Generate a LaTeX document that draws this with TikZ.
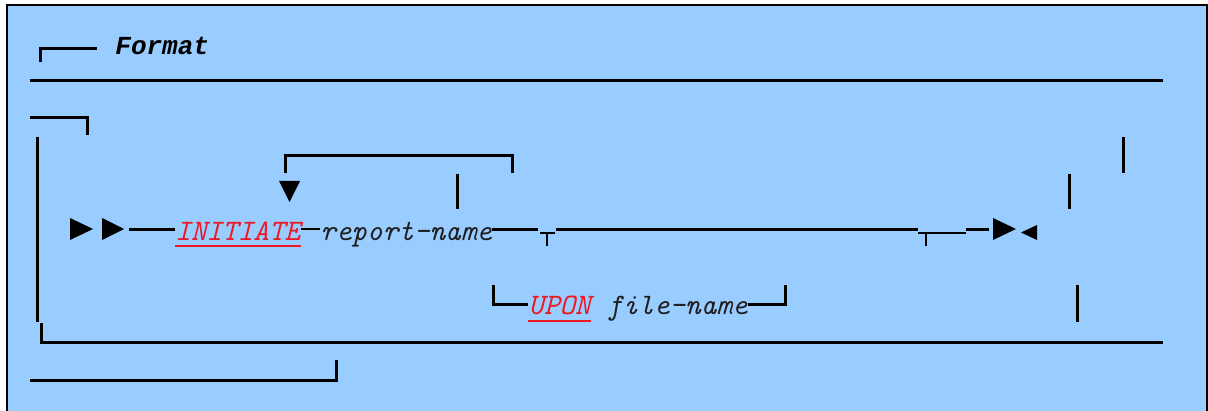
\documentclass[tikz,border=0pt]{standalone}
\usepackage{fontspec}
\newfontfamily\headfont{Liberation Mono}
\usepackage{xcolor}
\usetikzlibrary{positioning}

\definecolor{panelblue}{RGB}{153,204,255}
\definecolor{keyred}{RGB}{235,25,35}

\begin{document}
\begin{tikzpicture}[x=0.5pt, y=-0.5pt,
    rail/.style={line width=1.5pt},
    tick/.style={line width=1pt},
    word/.style={font=\ttfamily\itshape\fontsize{14.86}{15}\selectfont, text=black!88, inner sep=0pt, anchor=base west},
    keyword/.style={word, text=keyred},
    uline/.style={keyred, line width=0.8pt},
    tip/.style={fill=black}
]
\useasboundingbox (0,0) rectangle (1208,411);
\fill[panelblue] (7,5) rectangle (1207,420);
\draw[line width=0.8pt] (7,420) |- (1207,5) -- (1207,420);

% heading
\draw[rail] (40,62) |- (97,49);
\node[word, font=\headfont\bfseries\itshape\fontsize{13}{13}\selectfont, text=black] (fmt) at (115,55) {Format};
\draw[rail] (30,81) -- (1163,81);

% frame round the diagram
\draw[rail] (30,118) -| (87,135);
\draw[rail] (37,137) -- (37,322);
\draw[rail] (41,323) |- (1163,342);
\draw[rail] (30,380) -| (336,360);

% main line
\coordinate (mainy) at (0,229);
\fill[tip] (70,218) -- (93,229) -- (70,240) -- cycle;
\fill[tip] (102,218) -- (124,229) -- (102,240) -- cycle;
\coordinate (start) at (129,229);
\node[keyword] (init) at (175,240) {INITIATE};
\draw[uline] ([yshift=-3pt]init.base west) -- ([yshift=-3pt]init.base east);
\node[word] (rname) at (320,240) {report-name};
\draw[rail] (start) -- (init.west |- mainy);
\draw[tick] (init.east |- mainy) -- (rname.west |- mainy);

% repeat loop
\draw[rail] (285,173) |- (512,156) -- (512,173);
\fill[tip] (279,181) -- (300,181) -- (289.5,202) -- cycle;
\draw[rail] (457,174) -- (457,209);

% optional branch
\coordinate (fork) at (547,233);
\coordinate (join) at (926,233);
\draw[rail] (rname.east |- mainy) -- (538,229);
\draw[tick] (540,233) -- (555,233);
\draw[tick] (fork) -- (547,246);
\draw[rail] (556,229) -- (918,229);
\draw[tick] (918,233) -- (966,233);
\draw[tick] (join) -- (926,246);
\draw[rail] (966,229) -- (989,229);

\node[keyword] (upon) at (528,314) {UPON};
\draw[uline] ([yshift=-3.5pt]upon.base west) -- ([yshift=-3.5pt]upon.base east);
\node[word, base right=7.8pt of upon] (fname) {file-name};
\draw[rail] (493,285) |- (upon.west |- 0,304);
\draw[rail] (fname.east |- 0,304) -| (785,285);

% end of statement
\fill[tip] (993,218) -- (1016,229) -- (993,240) -- cycle;
\fill[tip] (1037,225) -- (1021,232.5) -- (1037,240) -- cycle;

% loose bars on the right
\draw[rail] (1069,174) -- (1069,209);
\draw[rail] (1123,137) -- (1123,173);
\draw[rail] (1077,285) -- (1077,322);
\end{tikzpicture}
\end{document}
